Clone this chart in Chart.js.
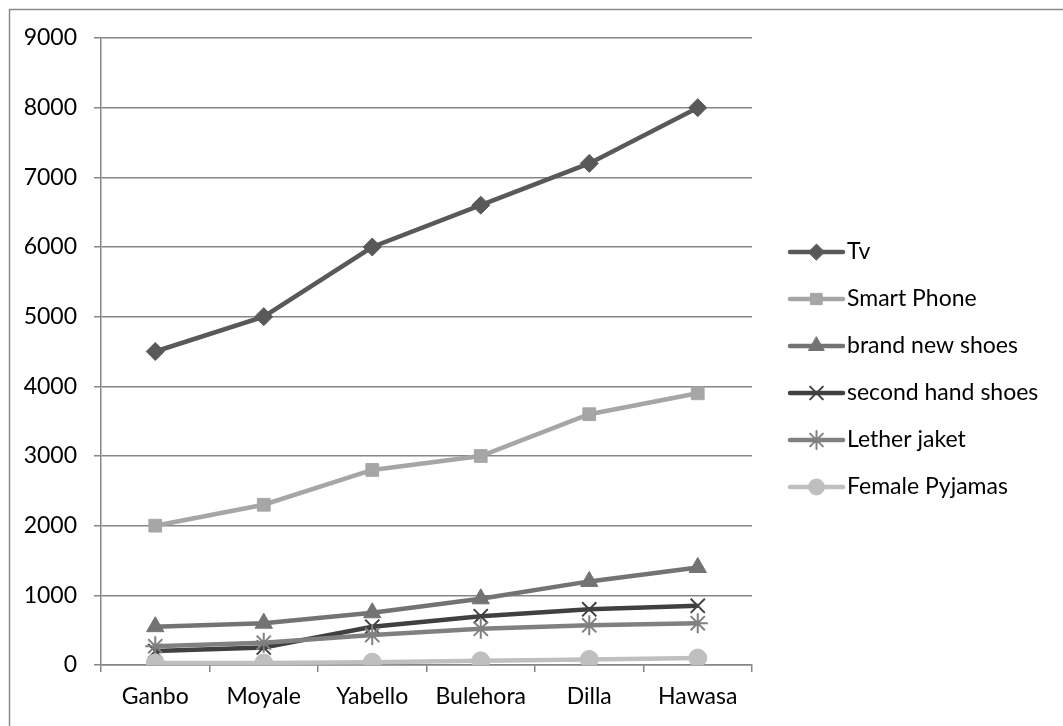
<!DOCTYPE html>
<html><head><meta charset="utf-8">
<script src="https://cdn.jsdelivr.net/npm/chart.js@4.4.0/dist/chart.umd.min.js"></script>
<style>html,body{margin:0;padding:0;background:#fff;}#wrap{width:1063px;height:726px;position:relative;}</style>
</head><body><div id="wrap"><canvas id="c" width="1063" height="726"></canvas></div>
<script>
const categories = ["Ganbo","Moyale","Yabello","Bulehora","Dilla","Hawasa"];
const tv = [4500,5000,6000,6600,7200,8000];
const smartPhone = [2000,2300,2800,3000,3600,3900];
const brandNewShoes = [550,600,750,950,1200,1400];
const secondHandShoes = [200,250,550,700,800,850];
const letherJaket = [270,320,430,520,570,600];
const femalePyjamas = [30,30,40,60,80,100];
const seriesNames = ["Tv","Smart Phone","brand new shoes","second hand shoes","Lether jaket","Female Pyjamas"];
const yTicks = [0,1000,2000,3000,4000,5000,6000,7000,8000,9000];

const FONT = "Lato, 'Open Sans', sans-serif";
const FS = 23;
const styles = [
  {color:'#595959', point:'rectRot', r:9, pw:1, fill:'#595959'},
  {color:'#A6A6A6', point:'rect', r:9, pw:1, fill:'#A6A6A6'},
  {color:'#737373', point:'triangle', r:10, pw:1, fill:'#737373'},
  {color:'#404040', point:'crossRot', r:10, pw:2, fill:'#404040'},
  {color:'#808080', point:'star', r:10, pw:2, fill:'#808080'},
  {color:'#BFBFBF', point:'circle', r:9, pw:1, fill:'#BFBFBF'}
];
const values = [tv,smartPhone,brandNewShoes,secondHandShoes,letherJaket,femalePyjamas];

const datasets = values.map((v,i)=>({
  label: seriesNames[i],
  data: v,
  borderColor: styles[i].color,
  backgroundColor: styles[i].fill,
  borderWidth: 4.5,
  pointStyle: styles[i].point,
  pointRadius: styles[i].r,
  pointBorderWidth: styles[i].pw,
  pointBorderColor: styles[i].color,
  pointBackgroundColor: styles[i].fill,
  tension: 0,
  order: 10 - i
}));

const frame = {
  id:'frame',
  beforeDraw(chart){
    const ctx = chart.ctx;
    ctx.save();
    ctx.fillStyle='#fff';
    ctx.fillRect(0,0,chart.width,chart.height);
    ctx.strokeStyle='#8a8a8a';
    ctx.lineWidth=1.5;
    ctx.strokeRect(9.5,9.5,1200,900);
    ctx.restore();
  }
};

const legendPlugin = {
  id:'customLegend',
  afterDraw(chart){
    const ctx = chart.ctx;
    ctx.save();
    const x0 = 790, x1 = 843, y0 = 252, step = 47;
    chart.data.datasets.forEach((ds,i)=>{
      const y = y0 + i*step;
      ctx.strokeStyle = ds.borderColor;
      ctx.lineWidth = 4.5;
      ctx.lineCap = 'round';
      ctx.beginPath(); ctx.moveTo(x0,y); ctx.lineTo(x1,y); ctx.stroke();
      ctx.fillStyle = ds.pointBackgroundColor;
      ctx.strokeStyle = ds.pointBorderColor;
      ctx.lineWidth = ds.pointBorderWidth;
      Chart.helpers.drawPoint(ctx,{pointStyle: ds.pointStyle, radius: ds.pointRadius-1, rotation:0, borderWidth: ds.pointBorderWidth},(x0+x1)/2,y);
      ctx.fillStyle = '#000';
      ctx.font = FS + 'px ' + FONT;
      ctx.textBaseline = 'middle';
      ctx.textAlign = 'left';
      ctx.fillText(ds.label, x1+4, y);
    });
    ctx.restore();
  }
};

new Chart(document.getElementById('c'),{
  type:'line',
  data:{labels:categories, datasets},
  options:{
    responsive:false,
    animation:false,
    devicePixelRatio:1,
    layout:{padding:{left:0,top:38,right:311,bottom:0}},
    plugins:{legend:{display:false},tooltip:{enabled:false}},
    scales:{
      x:{
        offset:true,
        grid:{offset:true, drawOnChartArea:false, drawTicks:true, tickLength:7, color:'#868686', lineWidth:1.5},
        border:{color:'#868686', width:1.5},
        ticks:{color:'#000', font:{family:FONT,size:FS}, padding:11, maxRotation:0},
        afterFit(a){a.height = 61;}
      },
      y:{
        min:0,max:9000,
        afterBuildTicks(a){a.ticks = yTicks.map(v=>({value:v}));},
        grid:{color:'#868686', lineWidth:1.5, tickLength:7},
        border:{color:'#868686', width:1.5},
        ticks:{color:'#000', font:{family:FONT,size:FS}, padding:17, callback:(v)=>String(v)},
        afterFit(a){a.width = 101;}
      }
    }
  },
  plugins:[frame, legendPlugin]
});
</script></body></html>
